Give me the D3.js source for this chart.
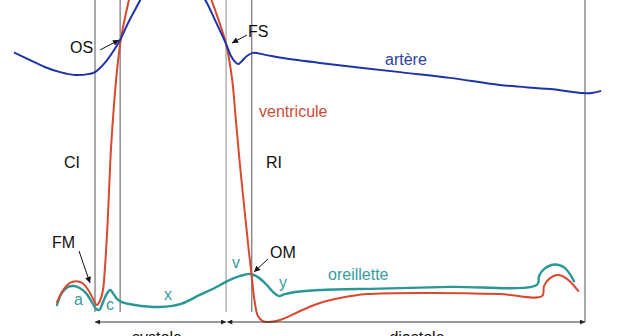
<!DOCTYPE html>
<html>
<head>
<meta charset="utf-8">
<script src="https://cdn.jsdelivr.net/npm/d3@7"></script>
<style>
  html, body { margin: 0; padding: 0; background: #fff; }
  svg { display: block; }
  text { font-family: "Liberation Sans", Arial, Helvetica, sans-serif; }
</style>
</head>
<body>
<svg id="chart" width="633" height="336"></svg>
<script>
// Cardiac cycle pressures: time in ms (0 = closing of the mitral valve), pressure in mmHg.
const arteryTime = [-131, -106, -82, -57, -33, -11, 0, 16, 29, 41, 54, 67, 82, 106, 131, 155, 180, 196, 214, 222, 229, 234, 240, 248, 258, 278, 307, 367, 498, 580, 661, 743, 797, 811, 825];
const arteryP    = [87.7, 85.2, 82.8, 81.0, 80.0, 80.3, 81.0, 84.2, 88.0, 92.2, 98.1, 103.3, 108.9, 114.8, 117.2, 113.7, 106.1, 99.1, 90.8, 86.6, 84.5, 83.8, 84.9, 86.6, 87.7, 87.0, 85.9, 84.2, 81.0, 79.0, 76.5, 75.1, 73.7, 73.7, 74.4];

const ventricleTime = [-62, -52, -41, -31, -21, -11, -3, 3, 8, 13, 16, 20, 23, 26, 31, 36, 42, 51, 65, 90, 122, 155, 180, 196, 214, 224, 230, 237, 245, 251, 256, 261, 266, 274, 282, 302, 335, 367, 400, 444, 552, 661, 730, 733, 741, 756, 771, 789];
const ventricleP    = [1.0, 5.2, 7.7, 8.3, 7.7, 5.2, 2.1, 0.0, 1.4, 5.2, 12.2, 26.1, 40.0, 53.9, 69.6, 81.7, 92.2, 101.9, 113.0, 121.7, 125.2, 120.0, 111.3, 102.6, 90.8, 78.3, 64.3, 48.0, 31.3, 19.1, 9.7, 0.7, -3.8, -5.6, -5.9, -5.2, -2.1, 0.7, 2.4, 3.8, 4.2, 3.8, 3.1, 6.6, 9.0, 10.4, 9.0, 4.9];

const atriumTime = [-62, -54, -44, -34, -25, -15, -5, 2, 7, 13, 20, 25, 29, 36, 44, 65, 106, 139, 171, 196, 216, 237, 253, 266, 279, 291, 300, 310, 327, 367, 465, 580, 722, 725, 733, 751, 767, 782];
const atriumP    = [0.0, 4.2, 6.3, 6.6, 5.9, 4.2, 1.0, -1.4, -1.7, 1.0, 4.2, 5.2, 4.2, 2.1, 1.0, 0.0, -0.7, 0.3, 3.5, 6.0, 8.3, 10.1, 10.8, 9.7, 7.3, 4.5, 3.1, 3.8, 4.5, 5.2, 5.7, 6.3, 7.1, 10.1, 12.5, 14.1, 12.9, 8.3];

// Event markers (ms): mitral closing, aortic opening, aortic closing, mitral opening, end of cycle
const eventTimes = [0, 41, 214, 256, 800];
const phaseNames = ["systole", "diastole"];
const phaseBounds = [[0, 214], [216, 800]];

const svg = d3.select("#chart");

const x = d3.scaleLinear().domain([0, 800]).range([95, 585]);
const y = d3.scaleLinear().domain([0, 80]).range([305, 75]);

const BLUE = "#1f33a8", RED = "#d9482f", TEAL = "#2a9696";

// Marker definitions for annotation arrows
const defs = svg.append("defs");
function marker(id, color, w, h) {
  defs.append("marker")
    .attr("id", id)
    .attr("viewBox", "0 0 10 10")
    .attr("refX", 10).attr("refY", 5)
    .attr("markerUnits", "userSpaceOnUse")
    .attr("markerWidth", w).attr("markerHeight", h)
    .attr("orient", "auto-start-reverse")
    .append("path")
    .attr("d", "M0,0 L10,5 L0,10 z")
    .attr("fill", color);
}
marker("head", "#111", 7, 6);
marker("phase", "#222", 7, 5);

// Vertical event lines
svg.append("g").selectAll("line")
  .data(eventTimes)
  .join("line")
  .attr("x1", d => x(d)).attr("x2", d => x(d))
  .attr("y1", 0)
  .attr("y2", (d, i) => i === eventTimes.length - 1 ? 322 : 312)
  .attr("stroke", (d, i) => i === 2 ? "#8a8a8a" : "#555")
  .attr("stroke-width", 1);

const line = d3.line()
  .x(d => x(d[0]))
  .y(d => y(d[1]))
  .curve(d3.curveCatmullRom.alpha(0.5));

function drawCurve(times, values, color, width) {
  svg.append("path")
    .datum(d3.zip(times, values))
    .attr("d", line)
    .attr("fill", "none")
    .attr("stroke", color)
    .attr("stroke-width", width)
    .attr("stroke-linejoin", "round")
    .attr("stroke-linecap", "round");
}

drawCurve(atriumTime, atriumP, TEAL, 2.4);
drawCurve(ventricleTime, ventricleP, RED, 2);
drawCurve(arteryTime, arteryP, BLUE, 2);

// Phase arrows
const phase = svg.append("g");
phaseBounds.forEach((b, i) => {
  phase.append("line")
    .attr("x1", x(b[0])).attr("x2", x(b[1]))
    .attr("y1", 322).attr("y2", 322)
    .attr("stroke", "#333").attr("stroke-width", 1)
    .attr("marker-start", "url(#phase)")
    .attr("marker-end", "url(#phase)");
});
phase.selectAll("text")
  .data(phaseNames)
  .join("text")
  .attr("x", (d, i) => i === 0 ? 157 : 417)
  .attr("y", 343)
  .attr("text-anchor", "middle")
  .attr("font-size", 16)
  .attr("fill", "#111")
  .text(d => d);

// Text annotations
function label(txt, px, py, color, anchor) {
  svg.append("text")
    .attr("x", px).attr("y", py)
    .attr("font-size", 16)
    .attr("fill", color)
    .attr("text-anchor", anchor || "start")
    .text(txt);
}
label("OS", 70, 53, "#111");
label("FS", 248, 37, "#111");
label("CI", 64, 168, "#111");
label("RI", 266, 168, "#111");
label("FM", 52, 248, "#111");
label("OM", 270, 258, "#111");
label("artère", 385, 65, "#2b3ea8");
label("ventricule", 259, 117, "#cc4b38");
label("oreillette", 328, 280, "#3a9c9c");
label("a", 74, 305, "#3a9c9c");
label("c", 106, 310, "#3a9c9c");
label("x", 164, 300, "#3a9c9c");
label("v", 232, 268, "#3a9c9c");
label("y", 279, 288, "#3a9c9c");

// Pointers to valve events
const pointers = [
  [100, 50, 119, 40],
  [247, 35, 232, 43],
  [79, 251, 90, 283],
  [268, 259, 254, 272]
];
svg.append("g").selectAll("line")
  .data(pointers)
  .join("line")
  .attr("x1", d => d[0]).attr("y1", d => d[1])
  .attr("x2", d => d[2]).attr("y2", d => d[3])
  .attr("stroke", "#111").attr("stroke-width", 1)
  .attr("marker-end", "url(#head)");
</script>
</body>
</html>
